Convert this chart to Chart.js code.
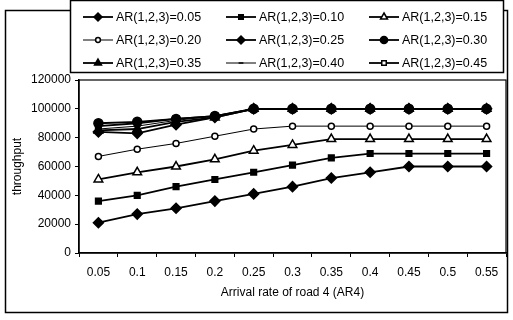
<!DOCTYPE html>
<html>
<head>
<meta charset="utf-8">
<script src="https://cdn.jsdelivr.net/npm/chart.js@4/dist/chart.umd.min.js"></script>
<style>
  html, body { margin: 0; padding: 0; background: #fff; }
  #wrap { width: 513px; height: 320px; }
</style>
</head>
<body>
<div id="wrap"><canvas id="chart"></canvas></div>
<script>
const categories = ['0.05', '0.1', '0.15', '0.2', '0.25', '0.3', '0.35', '0.4', '0.45', '0.5', '0.55'];
const seriesNames = [
  'AR(1,2,3)=0.05', 'AR(1,2,3)=0.10', 'AR(1,2,3)=0.15',
  'AR(1,2,3)=0.20', 'AR(1,2,3)=0.25', 'AR(1,2,3)=0.30',
  'AR(1,2,3)=0.35', 'AR(1,2,3)=0.40', 'AR(1,2,3)=0.45'
];
const ar005 = [21000, 27000, 31000, 36000, 41000, 46000, 52000, 56000, 60000, 60000, 60000];
const ar010 = [36000, 40000, 46000, 51000, 56000, 61000, 66000, 69000, 69000, 69000, 69000];
const ar015 = [51000, 56000, 60000, 65000, 71000, 75000, 79000, 79000, 79000, 79000, 79000];
const ar020 = [67000, 72000, 76000, 81000, 86000, 88000, 88000, 88000, 88000, 88000, 88000];
const ar025 = [84000, 83000, 89000, 94000, 100000, 100000, 100000, 100000, 100000, 100000, 100000];
const ar030 = [90000, 91000, 93000, 95000, 100000, 100000, 100000, 100000, 100000, 100000, 100000];
const ar035 = [85000, 86000, 91000, 94000, 100000, 100000, 100000, 100000, 100000, 100000, 100000];
const ar040 = [86000, 88000, 92000, 95000, 100000, 100000, 100000, 100000, 100000, 100000, 100000];
const ar045 = [88000, 90000, 93000, 95000, 100000, 100000, 100000, 100000, 100000, 100000, 100000];
const yTicks = [0, 20000, 40000, 60000, 80000, 100000, 120000];

const FONT = '"Liberation Sans", Arial, sans-serif';

// marker style per series: [pointStyle, radius, filled, lineWidth]
const markers = [
  ['rectRot', 5, true, 1.8],
  ['rect', 4, true, 1.8],
  ['triangle', 5, false, 1.8],
  ['circle', 3, false, 1],
  ['rectRot', 5, true, 1.8],
  ['circle', 4.5, true, 1.8],
  ['triangle', 5, true, 1.8],
  ['line', 3, true, 1],
  ['rect', 4, false, 1.8]
];
const values = [ar005, ar010, ar015, ar020, ar025, ar030, ar035, ar040, ar045];

const datasets = seriesNames.map((name, i) => {
  const [style, radius, filled, lw] = markers[i];
  return {
    label: name,
    data: values[i],
    borderColor: '#000',
    backgroundColor: filled ? '#000' : '#fff',
    borderWidth: lw,
    pointStyle: style,
    pointRadius: radius,
    pointBorderWidth: 1.5,
    pointBorderColor: '#000',
    pointBackgroundColor: filled ? '#000' : '#fff',
    tension: 0
  };
});

const framePlugin = {
  id: 'frame',
  beforeDraw(chart) {
    const ctx = chart.ctx;
    ctx.save();
    ctx.strokeStyle = '#000';
    ctx.lineWidth = 1.5;
    ctx.strokeRect(5.5, 10.5, 502, 302);
    ctx.restore();
  },
  afterDraw(chart) {
    const ctx = chart.ctx;
    const a = chart.chartArea;
    ctx.save();
    ctx.strokeStyle = '#000';
    ctx.lineWidth = 1.2;
    ctx.strokeRect(a.left, a.top, a.right - a.left, a.bottom - a.top);

    // legend box
    ctx.fillStyle = '#fff';
    ctx.fillRect(70, 0, 434, 73);
    ctx.lineWidth = 1.5;
    ctx.strokeRect(70.5, 0.5, 433, 72);

    ctx.font = '12.5px ' + FONT;
    ctx.textBaseline = 'middle';
    chart.data.datasets.forEach((ds, i) => {
      const col = i % 3, row = Math.floor(i / 3);
      const x = 83 + col * 143;
      const y = 17 + row * 23;
      ctx.strokeStyle = '#000';
      ctx.lineWidth = ds.borderWidth;
      ctx.beginPath();
      ctx.moveTo(x, y);
      ctx.lineTo(x + 30, y);
      ctx.stroke();
      ctx.fillStyle = ds.pointBackgroundColor;
      ctx.lineWidth = 1.5;
      if (Chart.helpers && Chart.helpers.drawPoint) {
        Chart.helpers.drawPoint(ctx, {
          pointStyle: ds.pointStyle,
          radius: ds.pointRadius * 0.8,
          rotation: 0,
          borderWidth: 1.5
        }, x + 15, y);
      }
      ctx.fillStyle = '#000';
      ctx.textAlign = 'left';
      ctx.fillText(ds.label, x + 33, y + 1);
    });
    ctx.restore();
  }
};

new Chart(document.getElementById('chart'), {
  type: 'line',
  data: { labels: categories, datasets },
  options: {
    responsive: true,
    maintainAspectRatio: false,
    animation: false,
    layout: { padding: { top: 80, left: 5, right: 7, bottom: 7 } },
    plugins: {
      legend: { display: false },
      tooltip: { enabled: false }
    },
    scales: {
      x: {
        offset: true,
        grid: { display: true, drawOnChartArea: false, offset: true, tickLength: 4, color: '#000' },
        border: { color: '#000', width: 1.5 },
        ticks: { color: '#000', font: { family: FONT, size: 12 }, padding: 8, maxRotation: 0, autoSkip: false },
        title: {
          display: true,
          text: 'Arrival rate of road 4 (AR4)',
          color: '#000',
          font: { family: FONT, size: 12 },
          padding: { top: 4, bottom: 13 }
        },
        afterFit(scale) { scale.height = 60; }
      },
      y: {
        min: 0,
        max: 120000,
        afterBuildTicks(scale) { scale.ticks = yTicks.map(v => ({ value: v })); },
        grid: { display: true, drawOnChartArea: false, tickLength: 4, color: '#000' },
        border: { color: '#000', width: 1.5 },
        ticks: {
          color: '#000',
          font: { family: FONT, size: 12 },
          padding: 4,
          callback: (v) => String(v)
        },
        title: {
          display: true,
          text: 'throughput',
          color: '#000',
          font: { family: FONT, size: 12 },
          padding: { top: 5, bottom: 0 }
        },
        afterFit(scale) { scale.width = 74; }
      }
    }
  },
  plugins: [framePlugin]
});
</script>
</body>
</html>
